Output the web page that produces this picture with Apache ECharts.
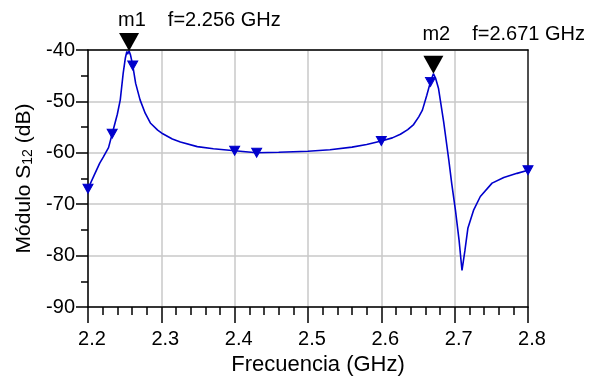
<!DOCTYPE html>
<html>
<head>
<meta charset="utf-8">
<script src="https://cdn.jsdelivr.net/npm/echarts@6/dist/echarts.min.js"></script>
<style>
  html, body { margin: 0; padding: 0; background: #fff; }
  #chart { width: 600px; height: 385px; }
</style>
</head>
<body>
<div id="chart"></div>
<script>
// S12 magnitude sweep (GHz, dB)
var freq = [2.200, 2.208, 2.216, 2.221, 2.228, 2.233, 2.240, 2.244, 2.248, 2.251, 2.253, 2.254, 2.256, 2.258, 2.261,
            2.265, 2.271, 2.278, 2.285, 2.295, 2.302, 2.315, 2.326, 2.349, 2.371, 2.400, 2.430, 2.460, 2.500,
            2.530, 2.560, 2.580, 2.600, 2.615, 2.626, 2.636, 2.644, 2.651, 2.656, 2.662, 2.667, 2.671, 2.674,
            2.678, 2.685, 2.692, 2.696, 2.701, 2.706, 2.710, 2.714, 2.718, 2.726, 2.735, 2.751, 2.767, 2.785, 2.800];
var s12 = [-67.0, -64.5, -62.0, -60.8, -59.0, -56.3, -52.5, -49.7, -44.5, -41.5, -40.3, -40.8, -40.2, -41.0, -43.0,
           -46.5, -49.7, -52.3, -54.2, -55.6, -56.3, -57.3, -57.9, -58.8, -59.2, -59.6, -60.0, -59.9, -59.7,
           -59.4, -58.9, -58.4, -57.7, -57.1, -56.4, -55.5, -54.5, -53.0, -51.7, -48.8, -46.2, -44.6, -45.5,
           -47.5, -54.0, -61.4, -66.0, -71.1, -77.0, -82.9, -79.0, -74.7, -71.1, -68.5, -65.9, -64.8, -64.0, -63.4];

// trace symbols
var symFreq = [2.200, 2.233, 2.261, 2.400, 2.430, 2.600, 2.667, 2.800];
var symS12 = [-67.0, -56.3, -43.0, -59.6, -60.0, -57.7, -46.2, -63.4];

// markers m1, m2
var mkNames = ['m1', 'm2'];
var mkFreq = [2.256, 2.671];
var mkS12 = [-40.2, -44.6];
var mkText = ['f=2.256 GHz', 'f=2.671 GHz'];

var xTicks = [2.2, 2.3, 2.4, 2.5, 2.6, 2.7, 2.8];
var yTicks = [-90, -80, -70, -60, -50, -40];

var FONT = 'Liberation Sans, Arial, Helvetica, sans-serif';
var BLUE = '#0000cc';
var INK = '#000';

var traceData = freq.map(function (f, i) { return [f, s12[i]]; });
var symData = symFreq.map(function (f, i) { return [f, symS12[i]]; });
var labelRise = [31, 39];
var mkData = mkFreq.map(function (f, i) {
  return {
    value: [f, mkS12[i]],
    name: mkNames[i],
    label: { position: [-11, -labelRise[i]] }
  };
});

var chart = echarts.init(document.getElementById('chart'), null, { renderer: 'canvas' });

var gridLine = { show: true, lineStyle: { color: '#c8c8c8', width: 1.5 } };

chart.setOption({
  animation: false,
  backgroundColor: '#fff',
  grid: { left: 88, right: 72, top: 50, bottom: 78 },
  xAxis: [{
    type: 'value',
    min: xTicks[0], max: xTicks[xTicks.length - 1], interval: 0.1,
    name: 'Frecuencia (GHz)',
    nameLocation: 'middle',
    nameGap: 47,
    nameTextStyle: { fontFamily: FONT, fontSize: 22, color: INK, padding: [0, 0, 0, 20] },
    axisLine: { show: true, onZero: false, lineStyle: { color: '#000', width: 1.5 } },
    axisTick: { show: true, inside: false, length: 16, lineStyle: { color: '#000', width: 1.5 } },
    minorTick: { show: true, splitNumber: 5, length: 8, lineStyle: { color: '#000', width: 1.5 } },
    axisLabel: { fontFamily: FONT, fontSize: 20, color: INK, margin: 22, padding: [0, 0, 0, 8],
      formatter: function (v) { return v.toFixed(1); } },
    splitLine: gridLine
  }, {
    type: 'value', position: 'top',
    min: xTicks[0], max: xTicks[xTicks.length - 1],
    axisLine: { show: true, onZero: false, lineStyle: { color: '#000', width: 1.5 } },
    axisTick: { show: false }, axisLabel: { show: false }, splitLine: { show: false }
  }],
  yAxis: [{
    type: 'value',
    min: yTicks[0], max: yTicks[yTicks.length - 1], interval: 10,
    name: '{n|Módulo S}{s|12}{n| (dB)}',
    nameLocation: 'middle',
    nameGap: 53,
    nameTextStyle: {
      fontFamily: FONT, fontSize: 21, color: INK,
      rich: {
        n: { fontFamily: FONT, fontSize: 21, color: INK, lineHeight: 25, verticalAlign: 'bottom' },
        s: { fontFamily: FONT, fontSize: 14, color: INK, lineHeight: 25, verticalAlign: 'bottom', padding: [8, 0, 0, 0] }
      }
    },
    axisLine: { show: true, onZero: false, lineStyle: { color: '#000', width: 1.5 } },
    axisTick: { show: true, inside: false, length: 12, lineStyle: { color: '#000', width: 1.5 } },
    minorTick: { show: true, splitNumber: 2, length: 7, lineStyle: { color: '#000', width: 1.5 } },
    axisLabel: { fontFamily: FONT, fontSize: 20, color: INK, margin: 13 },
    splitLine: gridLine
  }, {
    type: 'value', position: 'right',
    min: yTicks[0], max: yTicks[yTicks.length - 1],
    axisLine: { show: true, onZero: false, lineStyle: { color: '#222', width: 1.5 } },
    axisTick: { show: false }, axisLabel: { show: false }, splitLine: { show: false }
  }],
  series: [{
    type: 'line',
    data: traceData,
    showSymbol: false,
    lineStyle: { color: BLUE, width: 1.6 },
    z: 3
  }, {
    type: 'scatter',
    data: symData,
    symbol: 'triangle',
    symbolRotate: 180,
    symbolSize: [10, 9],
    itemStyle: { color: BLUE, borderColor: BLUE, borderWidth: 1, opacity: 1 },
    z: 4
  }, {
    type: 'scatter',
    data: mkData.map(function (d) { return { value: d.value }; }),
    symbol: 'path://M0,0L20,0L10,18Z',
    symbolSize: [20, 18],
    symbolOffset: [0, -9],
    itemStyle: { color: '#000', opacity: 1 },
    z: 5
  }, {
    type: 'scatter',
    data: mkData,
    symbolSize: 0,
    itemStyle: { color: '#fff', opacity: 1 },
    label: {
      show: true,
      align: 'left',
      verticalAlign: 'middle',
      fontFamily: FONT,
      fontSize: 20,
      color: INK,
      opacity: 1,
      formatter: function (p) { return '{m|' + p.name + '}{f|' + mkText[p.dataIndex] + '}'; },
      rich: {
        m: { fontFamily: FONT, fontSize: 20, color: INK },
        f: { fontFamily: FONT, fontSize: 20, color: INK, padding: [0, 0, 0, 22] }
      }
    },
    z: 6
  }]
});
</script>
</body>
</html>
